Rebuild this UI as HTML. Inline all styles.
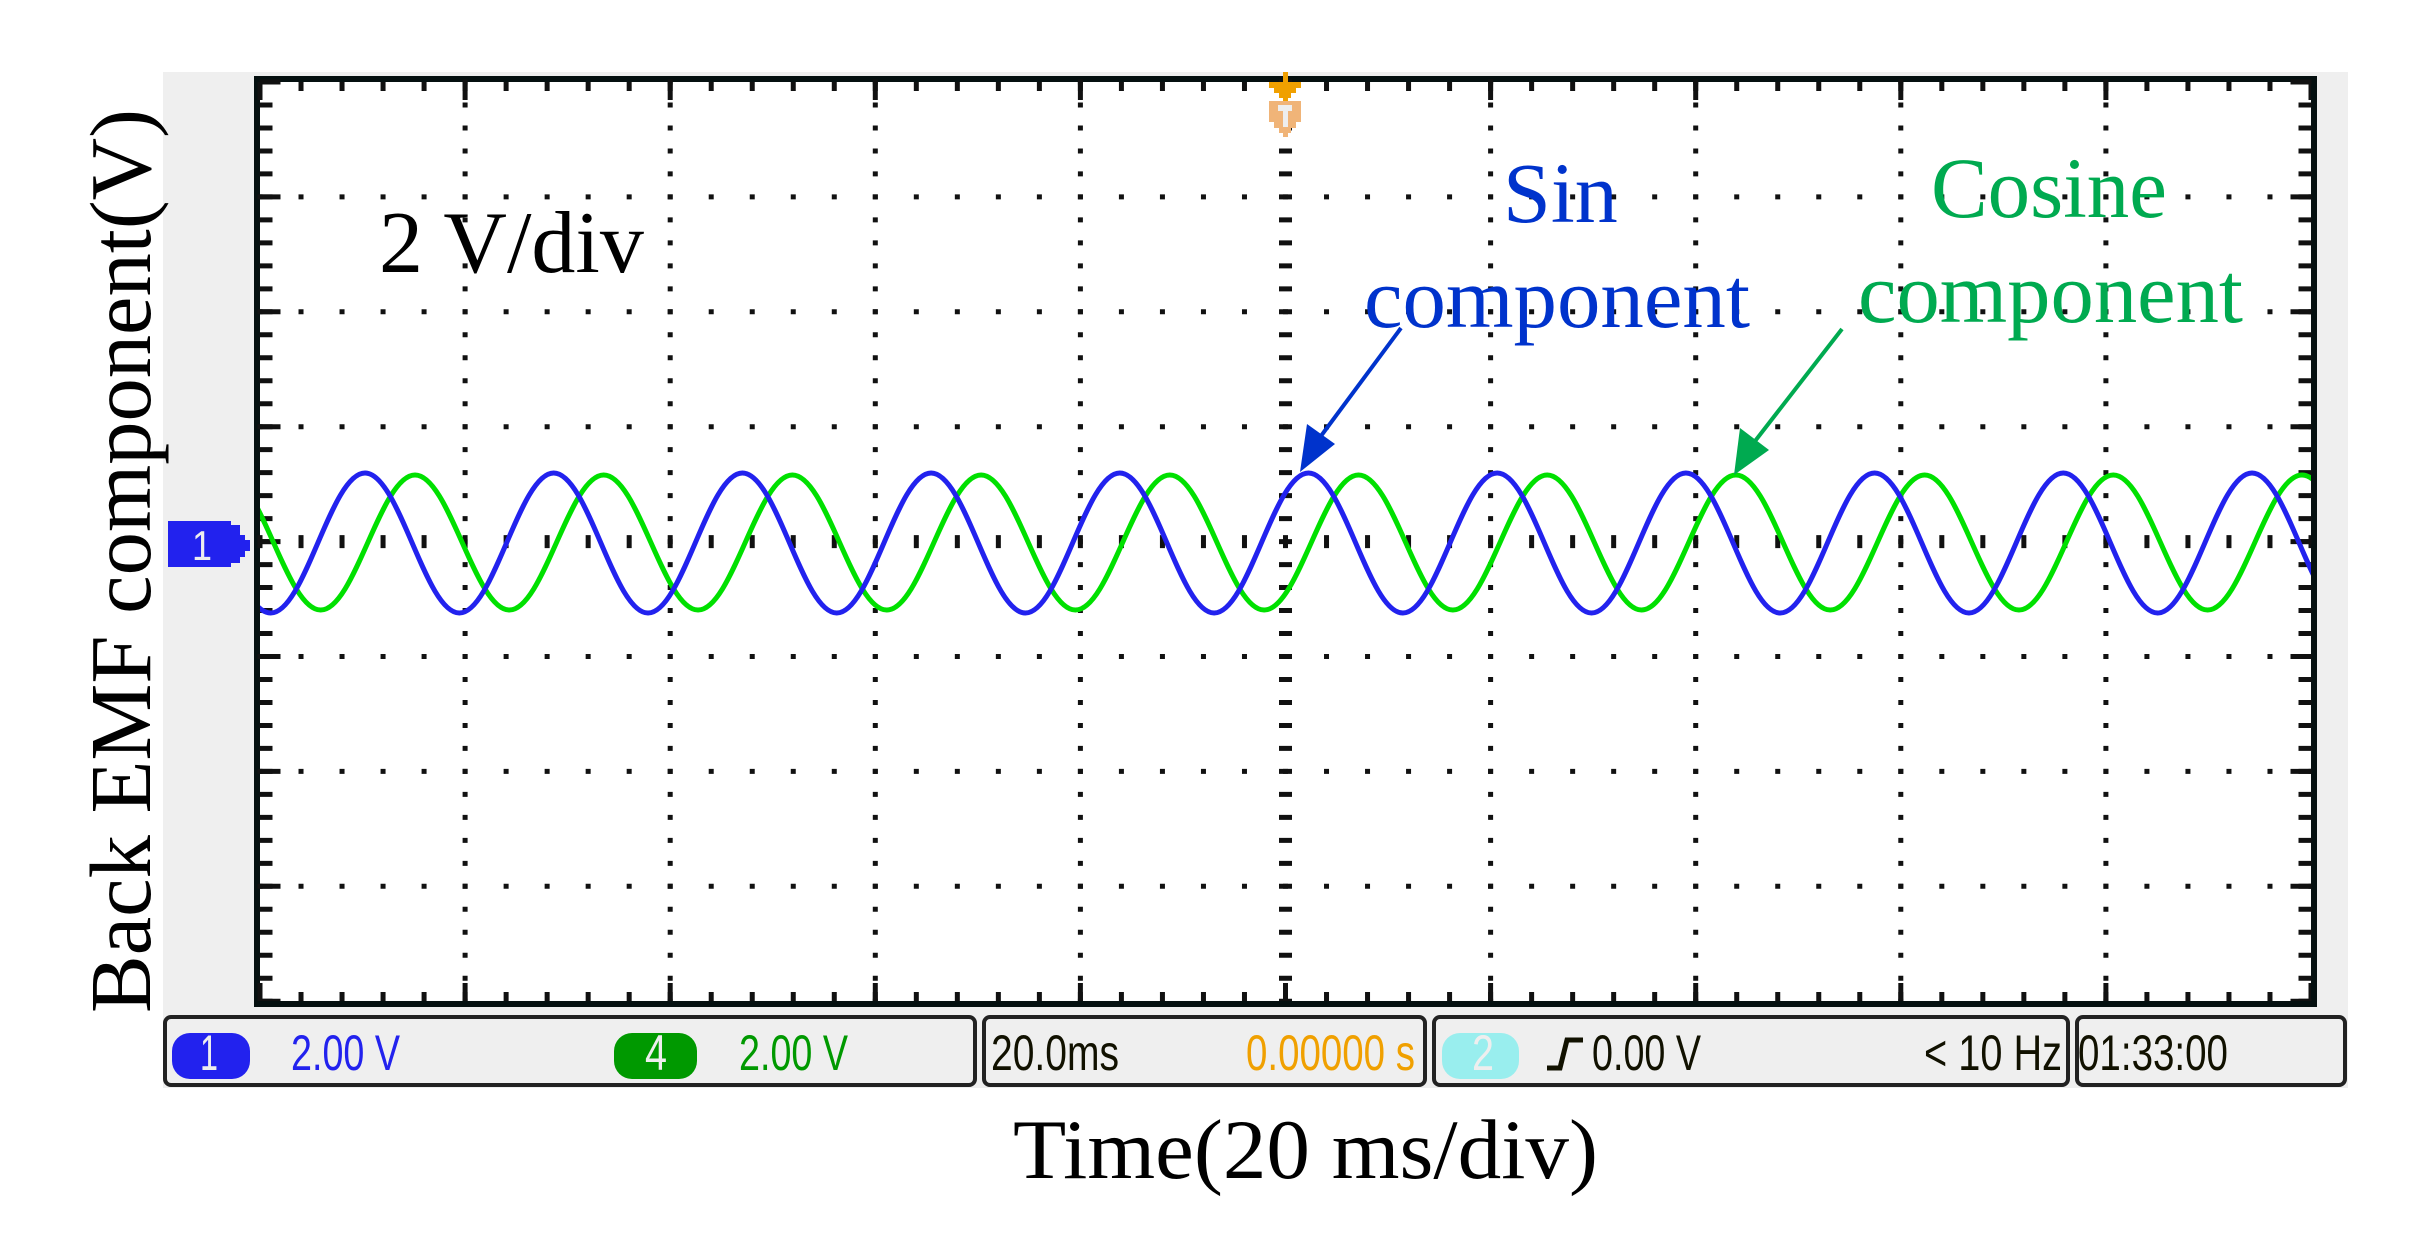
<!DOCTYPE html>
<html><head><meta charset="utf-8"><style>
html,body{margin:0;padding:0;background:#fff;}
svg{display:block;}
</style></head><body>
<svg width="2420" height="1236" viewBox="0 0 2420 1236" xmlns="http://www.w3.org/2000/svg">
<defs><clipPath id="pc"><rect x="260" y="82" width="2051" height="919"/></clipPath></defs>
<rect x="0" y="0" width="2420" height="1236" fill="#fff"/>
<rect x="163" y="72" width="2185" height="1016" fill="#efefef"/>
<rect x="257" y="79" width="2057" height="925" fill="#fff" stroke="#051010" stroke-width="6"/>

<g stroke="#111" fill="none">
<!-- major vertical dotted lines -->
<g stroke-width="5" stroke-dasharray="5 17.98">
<line x1="465.1" y1="79.5" x2="465.1" y2="1001"/>
<line x1="670.2" y1="79.5" x2="670.2" y2="1001"/>
<line x1="875.3" y1="79.5" x2="875.3" y2="1001"/>
<line x1="1080.4" y1="79.5" x2="1080.4" y2="1001"/>
<line x1="1490.6" y1="79.5" x2="1490.6" y2="1001"/>
<line x1="1695.7" y1="79.5" x2="1695.7" y2="1001"/>
<line x1="1900.8" y1="79.5" x2="1900.8" y2="1001"/>
<line x1="2105.9" y1="79.5" x2="2105.9" y2="1001"/>
</g>
<!-- major horizontal dotted lines -->
<g stroke-width="5" stroke-dasharray="5 36.02">
<line x1="257.5" y1="196.9" x2="2311" y2="196.9"/>
<line x1="257.5" y1="311.8" x2="2311" y2="311.8"/>
<line x1="257.5" y1="426.7" x2="2311" y2="426.7"/>
<line x1="257.5" y1="656.5" x2="2311" y2="656.5"/>
<line x1="257.5" y1="771.4" x2="2311" y2="771.4"/>
<line x1="257.5" y1="886.3" x2="2311" y2="886.3"/>
</g>
<!-- center lines -->
<line x1="257.5" y1="541.6" x2="2311" y2="541.6" stroke-width="13" stroke-dasharray="5 36.02"/>
<line x1="1285.5" y1="79.5" x2="1285.5" y2="1001" stroke-width="13" stroke-dasharray="5 17.98"/>
<!-- frame ticks: left/right -->
<line x1="266" y1="79.5" x2="266" y2="1001" stroke-width="13" stroke-dasharray="5 17.98"/>
<line x1="2305" y1="79.5" x2="2305" y2="1001" stroke-width="13" stroke-dasharray="5 17.98"/>
<line x1="270" y1="79.5" x2="270" y2="1001" stroke-width="21" stroke-dasharray="5 109.9"/>
<line x1="2301" y1="79.5" x2="2301" y2="1001" stroke-width="21" stroke-dasharray="5 109.9"/>
<!-- top/bottom -->
<line x1="257.5" y1="86.5" x2="2311" y2="86.5" stroke-width="9" stroke-dasharray="5 36.02"/>
<line x1="257.5" y1="996.5" x2="2311" y2="996.5" stroke-width="9" stroke-dasharray="5 36.02"/>
<line x1="257.5" y1="91" x2="2311" y2="91" stroke-width="18" stroke-dasharray="5 200.1"/>
<line x1="257.5" y1="992" x2="2311" y2="992" stroke-width="18" stroke-dasharray="5 200.1"/>
</g>

<!-- waves -->
<g clip-path="url(#pc)" fill="none" stroke-width="5" stroke-linejoin="miter">
<path stroke="#00e000" d="M37.6,475 c34.36,0 59.99,135 94.35,135 c34.36,0 59.99,-135 94.35,-135 c34.36,0 59.99,135 94.35,135 c34.36,0 59.99,-135 94.35,-135 c34.36,0 59.99,135 94.35,135 c34.36,0 59.99,-135 94.35,-135 c34.36,0 59.99,135 94.35,135 c34.36,0 59.99,-135 94.35,-135 c34.36,0 59.99,135 94.35,135 c34.36,0 59.99,-135 94.35,-135 c34.36,0 59.99,135 94.35,135 c34.36,0 59.99,-135 94.35,-135 c34.36,0 59.99,135 94.35,135 c34.36,0 59.99,-135 94.35,-135 c34.36,0 59.99,135 94.35,135 c34.36,0 59.99,-135 94.35,-135 c34.36,0 59.99,135 94.35,135 c34.36,0 59.99,-135 94.35,-135 c34.36,0 59.99,135 94.35,135 c34.36,0 59.99,-135 94.35,-135 c34.36,0 59.99,135 94.35,135 c34.36,0 59.99,-135 94.35,-135 c34.36,0 59.99,135 94.35,135 c34.36,0 59.99,-135 94.35,-135 c34.36,0 59.99,135 94.35,135 c34.36,0 59.99,-135 94.35,-135"/>
<path stroke="#2222ee" d="M176.3,473 c34.36,0 59.99,140 94.35,140 c34.36,0 59.99,-140 94.35,-140 c34.36,0 59.99,140 94.35,140 c34.36,0 59.99,-140 94.35,-140 c34.36,0 59.99,140 94.35,140 c34.36,0 59.99,-140 94.35,-140 c34.36,0 59.99,140 94.35,140 c34.36,0 59.99,-140 94.35,-140 c34.36,0 59.99,140 94.35,140 c34.36,0 59.99,-140 94.35,-140 c34.36,0 59.99,140 94.35,140 c34.36,0 59.99,-140 94.35,-140 c34.36,0 59.99,140 94.35,140 c34.36,0 59.99,-140 94.35,-140 c34.36,0 59.99,140 94.35,140 c34.36,0 59.99,-140 94.35,-140 c34.36,0 59.99,140 94.35,140 c34.36,0 59.99,-140 94.35,-140 c34.36,0 59.99,140 94.35,140 c34.36,0 59.99,-140 94.35,-140 c34.36,0 59.99,140 94.35,140 c34.36,0 59.99,-140 94.35,-140 c34.36,0 59.99,140 94.35,140 c34.36,0 59.99,-140 94.35,-140"/>
</g>

<!-- trigger marker -->
<polygon points="1269,82 1301,82 1301,88 1296,88 1296,93 1291,93 1291,98 1279,98 1279,93 1274,93 1274,88 1269,88" fill="#f0a000"/>
<rect x="1283" y="72" width="5" height="30" fill="#f0a000"/>
<polygon points="1269,101 1301,101 1301,122 1296,122 1296,128 1291,128 1291,133 1288,133 1288,137 1283,137 1283,133 1279,133 1279,128 1274,128 1274,122 1269,122" fill="#f0b478"/>
<rect x="1278" y="105" width="14" height="6" fill="#eee"/>
<rect x="1283" y="105" width="5" height="22" fill="#eee"/>

<!-- channel 1 marker -->
<polygon points="168,521 231,521 231,525 240,525 240,535 245,535 245,540 250,540 250,551 245,551 245,557 240,557 240,563 231,563 231,567 168,567" fill="#2222ee"/>
<text x="192" y="560" font-family="Liberation Sans, sans-serif" font-size="42" fill="#eee" textLength="20" lengthAdjust="spacingAndGlyphs">1</text>

<!-- annotations -->
<g font-family="Liberation Serif, serif" font-size="86">
<text x="379" y="272" font-size="88" fill="#000">2 V/div</text>
<text x="1503" y="222" fill="#0033cc">Sin</text>
<text x="1364" y="327" fill="#0033cc" textLength="386" lengthAdjust="spacingAndGlyphs">component</text>
<text x="1931" y="217" fill="#00aa50" textLength="236" lengthAdjust="spacingAndGlyphs">Cosine</text>
<text x="1858" y="322" fill="#00aa50" textLength="385" lengthAdjust="spacingAndGlyphs">component</text>
</g>
<line x1="1401" y1="328" x2="1318" y2="440" stroke="#0033cc" stroke-width="4"/>
<polygon points="1300,472 1307,424 1335,444" fill="#0033cc"/>
<line x1="1842" y1="329" x2="1752" y2="445" stroke="#00aa50" stroke-width="4"/>
<polygon points="1734,475 1740,428 1769,450" fill="#00aa50"/>

<!-- axis labels -->
<text transform="translate(150,561) rotate(-90)" text-anchor="middle" font-family="Liberation Serif, serif" font-size="87" fill="#000" textLength="904" lengthAdjust="spacingAndGlyphs">Back EMF component(V)</text>
<text x="1013" y="1178" font-family="Liberation Serif, serif" font-size="85" fill="#000" textLength="585" lengthAdjust="spacingAndGlyphs">Time(20 ms/div)</text>

<!-- status bar -->
<g fill="#efefef" stroke="#222" stroke-width="4">
<rect x="165" y="1017" width="810" height="68" rx="6"/>
<rect x="984" y="1017" width="441" height="68" rx="6"/>
<rect x="1434" y="1017" width="634" height="68" rx="6"/>
<rect x="2077" y="1017" width="268" height="68" rx="6"/>
</g>
<rect x="172" y="1033" width="78" height="46" rx="18" fill="#2222ee"/>
<rect x="614" y="1033" width="83" height="46" rx="18" fill="#009900"/>
<rect x="1442" y="1033" width="77" height="46" rx="18" fill="#99eeee"/>
<g font-family="Liberation Sans, sans-serif" font-size="50">
<text x="200" y="1070" fill="#eee" textLength="18" lengthAdjust="spacingAndGlyphs">1</text>
<text x="645" y="1070" fill="#eee" textLength="22" lengthAdjust="spacingAndGlyphs">4</text>
<text x="1472" y="1070" fill="#eee" textLength="22" lengthAdjust="spacingAndGlyphs">2</text>
<text x="291" y="1070" fill="#2222ee" textLength="109" lengthAdjust="spacingAndGlyphs">2.00 V</text>
<text x="739" y="1070" fill="#009900" textLength="109" lengthAdjust="spacingAndGlyphs">2.00 V</text>
<text x="991" y="1070" fill="#111100" textLength="128" lengthAdjust="spacingAndGlyphs">20.0ms</text>
<text x="1246" y="1070" fill="#f0a000" textLength="169" lengthAdjust="spacingAndGlyphs">0.00000 s</text>
<text x="1592" y="1070" fill="#111100" textLength="109" lengthAdjust="spacingAndGlyphs">0.00 V</text>
<text x="1924" y="1070" fill="#111100" textLength="138" lengthAdjust="spacingAndGlyphs">&lt; 10 Hz</text>
<text x="2078" y="1070" fill="#111100" textLength="150" lengthAdjust="spacingAndGlyphs">01:33:00</text>
</g>
<polyline points="1547,1068 1560,1068 1567,1040 1583,1040" fill="none" stroke="#111100" stroke-width="5"/>
</svg>
</body></html>
